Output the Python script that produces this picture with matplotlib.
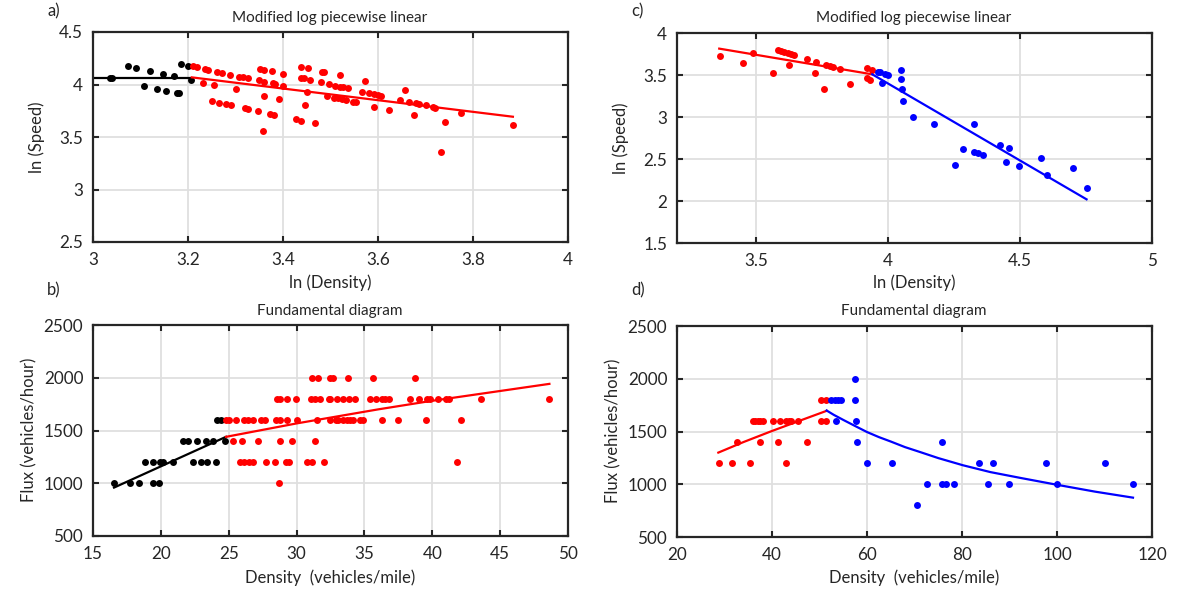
import matplotlib
matplotlib.use("Agg")
import matplotlib.pyplot as plt

plt.rcParams['font.family'] = ['Lato', 'DejaVu Sans']

# ---- panel a: log-log speed/density, two regimes ----
a_black_x = [3.036, 3.040, 3.073, 3.090, 3.120, 3.147, 3.171, 3.108, 3.134, 3.154,
             3.177, 3.182, 3.185, 3.199, 3.206]
a_black_y = [4.060, 4.060, 4.176, 4.160, 4.130, 4.100, 4.080, 3.986, 3.960, 3.940,
             3.916, 3.916, 4.198, 4.180, 4.040]
a_red_x = [3.211, 3.219, 3.236, 3.243, 3.262, 3.272, 3.288, 3.307, 3.315, 3.326,
           3.231, 3.255, 3.300, 3.251, 3.265, 3.280, 3.291, 3.321, 3.326, 3.347,
           3.357, 3.352, 3.361, 3.376, 3.399, 3.349, 3.359, 3.378, 3.383, 3.399,
           3.359, 3.391, 3.373, 3.381, 3.438, 3.453, 3.437, 3.445, 3.457, 3.450,
           3.446, 3.427, 3.437, 3.467, 3.483, 3.487, 3.479, 3.496, 3.493,
           3.509, 3.521, 3.527, 3.536, 3.519, 3.507, 3.516, 3.524, 3.533, 3.548,
           3.553, 3.573, 3.567, 3.580, 3.592, 3.599, 3.606, 3.592, 3.624, 3.657,
           3.646, 3.665, 3.680, 3.686, 3.700, 3.715, 3.721, 3.676, 3.740, 3.733,
           3.775, 3.884]
a_red_y = [4.173, 4.167, 4.148, 4.141, 4.119, 4.113, 4.094, 4.074, 4.068, 4.059,
           4.017, 3.992, 3.954, 3.843, 3.827, 3.814, 3.805, 3.773, 3.770, 3.748,
           3.557, 4.151, 4.141, 4.126, 4.103, 4.040, 4.027, 4.011, 4.002, 3.983,
           3.890, 3.859, 3.722, 3.713, 4.170, 4.154, 4.065, 4.059, 4.046, 3.932,
           3.805, 3.671, 3.655, 3.630, 4.122, 4.119, 4.021, 4.002, 3.890,
           3.989, 3.979, 3.973, 3.964, 4.087, 3.874, 3.869, 3.862, 3.850, 3.836,
           3.830, 4.033, 3.932, 3.919, 3.910, 3.903, 3.893, 3.789, 3.757, 3.948,
           3.852, 3.836, 3.821, 3.814, 3.802, 3.789, 3.779, 3.706, 3.643, 3.360,
           3.726, 3.614]
a_black_fit_x = [3.0, 3.205]
a_black_fit_y = [4.065, 4.065]
a_red_fit_x = [3.208, 3.884]
a_red_fit_y = [4.068, 3.693]

# ---- panel b: fundamental diagram ----
b_black_x = [16.55, 17.73, 18.41, 19.40, 19.86,
             18.83, 19.44, 19.94, 20.14, 20.87, 22.39, 22.96, 23.42, 24.06,
             21.65, 21.98, 22.69, 23.30, 23.87, 24.70,
             24.12, 24.41]
b_black_y = [1000] * 5 + [1200] * 9 + [1400] * 6 + [1600] * 2
b_red_x = [24.80, 25.05, 25.52, 26.15, 26.45, 26.81, 27.36, 27.68, 28.49, 28.78,
           29.27, 30.01, 31.53,
           32.47, 32.91, 33.08, 33.45, 33.70, 33.94, 34.18, 34.68, 34.92, 36.32,
           37.50, 39.52, 42.12,
           25.34, 25.96, 27.14, 28.78, 29.64, 31.38,
           25.83, 26.15, 26.52, 26.81, 27.73, 28.41, 29.22, 29.44, 30.79, 31.12,
           32.05, 41.80,
           28.73,
           28.54, 28.78, 29.27, 29.96, 31.07, 31.36, 31.73, 32.41,
           32.47, 32.96, 33.45, 33.89, 34.31, 35.41, 35.86, 36.27, 36.52, 36.79,
           38.36, 39.05, 39.59, 39.83, 40.45, 41.01, 41.26, 43.59, 48.58,
           31.12, 31.60, 32.47, 32.71, 33.77, 35.61, 38.73]
b_red_y = ([1600] * 26 + [1400] * 6 + [1200] * 12 + [1000] +
           [1800] * 8 + [1800] * 19 + [2000] * 7)
b_black_fit_x = [16.55, 24.80]
b_black_fit_y = [959, 1440]
b_red_fit_x = [24.80, 30.0, 36.0, 39.8, 48.63]
b_red_fit_y = [1440, 1567, 1700, 1778, 1942]

# ---- panel c: log-log speed/density, second site ----
c_red_x = [3.363, 3.449, 3.487, 3.562, 3.581, 3.594, 3.607, 3.619, 3.632, 3.642,
           3.623, 3.692, 3.727, 3.722, 3.758, 3.763, 3.778, 3.790, 3.816, 3.856,
           3.921, 3.938, 3.919, 3.933]
c_red_y = [3.731, 3.643, 3.762, 3.528, 3.802, 3.790, 3.779, 3.767, 3.750, 3.738,
           3.619, 3.690, 3.655, 3.528, 3.338, 3.624, 3.607, 3.595, 3.568, 3.393,
           3.580, 3.564, 3.464, 3.445]
c_blue_x = [3.961, 3.971, 3.990, 4.000, 3.978, 4.048, 4.048, 4.054, 4.057, 4.095,
            4.175, 4.327, 4.255, 4.285, 4.327, 4.341, 4.360, 4.423, 4.457, 4.446,
            4.495, 4.579, 4.603, 4.700, 4.752]
c_blue_y = [3.540, 3.536, 3.512, 3.500, 3.410, 3.556, 3.452, 3.330, 3.190, 3.000,
            2.921, 2.921, 2.433, 2.624, 2.583, 2.576, 2.552, 2.667, 2.631, 2.459,
            2.413, 2.512, 2.306, 2.393, 2.160]
c_red_fit_x = [3.36, 3.94]
c_red_fit_y = [3.814, 3.508]
c_blue_fit_x = [3.94, 4.752]
c_blue_fit_y = [3.508, 2.020]

# ---- panel d: fundamental diagram, second site ----
d_red_x = [28.9, 31.5, 35.3, 42.9,
           32.7, 37.5, 41.3, 47.3,
           36.0, 36.5, 37.0, 37.5, 38.1, 40.2, 41.6, 43.0, 43.5, 44.1, 45.5, 50.4, 51.3,
           50.4, 51.3]
d_red_y = [1200] * 4 + [1400] * 4 + [1600] * 13 + [1800] * 2
d_blue_x = [57.45,
            52.5, 53.2, 53.9, 54.6, 57.45,
            53.4, 57.7,
            57.9, 75.8,
            60.1, 65.2, 83.6, 86.5, 97.6, 110.2,
            72.7, 75.8, 76.7, 78.3, 85.5, 89.8, 99.9, 116.0,
            70.5]
d_blue_y = [2000] + [1800] * 5 + [1600] * 2 + [1400] * 2 + [1200] * 6 + [1000] * 8 + [800]
d_red_fit_x = [28.7, 34.0, 40.0, 46.0, 51.5]
d_red_fit_y = [1300, 1400, 1505, 1605, 1696]
d_blue_fit_x = [51.5, 53.0, 55.0, 57.5, 60.0, 62.5, 65.0, 68.0, 71.2, 75.0,
                80.2, 86.0, 92.3, 100.0, 108.0, 116.0]
d_blue_fit_y = [1699, 1658, 1610, 1552, 1495, 1447, 1405, 1352, 1305, 1248,
                1180, 1115, 1060, 995, 930, 873]

W, H = 1177, 594
fig = plt.figure(figsize=(W / 100, H / 100), dpi=100)

dark = '#262626'
grid_col = '#dfdfdf'


def px_rect(left, top, right, bottom):
    return [left / W, 1 - bottom / H, (right - left) / W, (bottom - top) / H]


def style(ax, xlim, ylim, xticks, xlabels, yticks, ylabels):
    ax.set_xlim(xlim)
    ax.set_ylim(ylim)
    ax.set_xticks(xticks)
    ax.set_xticklabels(xlabels)
    ax.set_yticks(yticks)
    ax.set_yticklabels(ylabels)
    ax.grid(True, color=grid_col, linewidth=1.3)
    ax.set_axisbelow(True)
    ax.tick_params(direction='in', length=4, width=1.5, color=dark,
                   top=True, right=True, labelsize=12.3, labelcolor=dark, pad=7)
    for s in ax.spines.values():
        s.set_color(dark)
        s.set_linewidth(1.6)


ms = 5

# a)
ax = fig.add_axes(px_rect(93, 32, 568, 242))
ax.plot(a_black_x, a_black_y, 'o', color='black', ms=ms, mew=0)
ax.plot(a_red_x, a_red_y, 'o', color='red', ms=ms, mew=0)
ax.plot(a_black_fit_x, a_black_fit_y, color='black', lw=1.6)
ax.plot(a_red_fit_x, a_red_fit_y, color='red', lw=1.6)
style(ax, (3, 4), (2.5, 4.5), [3, 3.2, 3.4, 3.6, 3.8, 4],
      ['3', '3.2', '3.4', '3.6', '3.8', '4'],
      [2.5, 3, 3.5, 4, 4.5], ['2.5', '3', '3.5', '4', '4.5'])

# b)
ax = fig.add_axes(px_rect(93, 325, 568, 536))
ax.plot(b_black_x, b_black_y, 'o', color='black', ms=ms, mew=0)
ax.plot(b_red_x, b_red_y, 'o', color='red', ms=ms, mew=0)
ax.plot(b_black_fit_x, b_black_fit_y, color='black', lw=1.6)
ax.plot(b_red_fit_x, b_red_fit_y, color='red', lw=1.6)
style(ax, (15, 50), (500, 2500), list(range(15, 51, 5)),
      [str(v) for v in range(15, 51, 5)],
      list(range(500, 2501, 500)), [str(v) for v in range(500, 2501, 500)])

# c)
ax = fig.add_axes(px_rect(677, 33, 1152, 243))
ax.plot(c_red_x, c_red_y, 'o', color='red', ms=ms, mew=0)
ax.plot(c_blue_x, c_blue_y, 'o', color='blue', ms=ms, mew=0)
ax.plot(c_red_fit_x, c_red_fit_y, color='red', lw=1.6)
ax.plot(c_blue_fit_x, c_blue_fit_y, color='blue', lw=1.6)
style(ax, (3.2, 5), (1.5, 4), [3.5, 4, 4.5, 5], ['3.5', '4', '4.5', '5'],
      [1.5, 2, 2.5, 3, 3.5, 4], ['1.5', '2', '2.5', '3', '3.5', '4'])

# d)
ax = fig.add_axes(px_rect(677, 326, 1152, 537))
ax.plot(d_red_x, d_red_y, 'o', color='red', ms=ms, mew=0)
ax.plot(d_blue_x, d_blue_y, 'o', color='blue', ms=ms, mew=0)
ax.plot(d_red_fit_x, d_red_fit_y, color='red', lw=1.6)
ax.plot(d_blue_fit_x, d_blue_fit_y, color='blue', lw=1.6)
style(ax, (20, 120), (500, 2500), list(range(20, 121, 20)),
      [str(v) for v in range(20, 121, 20)],
      list(range(500, 2501, 500)), [str(v) for v in range(500, 2501, 500)])

# text: panel letters, titles, axis labels


def ftext(x, y, s, fs=12.0, **kw):
    fig.text(x / W, 1 - y / H, s, fontsize=fs, color=dark, **kw)


ftext(47, 11, 'a)', ha='left', va='center')
ftext(47, 290, 'b)', ha='left', va='center')
ftext(631, 11, 'c)', ha='left', va='center')
ftext(631, 290, 'd)', ha='left', va='center')

ftext(330, 18, 'Modified log piecewise linear', fs=11, ha='center', va='center')
ftext(914, 18, 'Modified log piecewise linear', fs=11, ha='center', va='center')
ftext(330, 311, 'Fundamental diagram', fs=11, ha='center', va='center')
ftext(914, 311, 'Fundamental diagram', fs=11, ha='center', va='center')

ftext(330, 283, 'ln (Density)', ha='center', va='center')
ftext(914, 283, 'ln (Density)', ha='center', va='center')
ftext(330, 578, 'Density  (vehicles/mile)', ha='center', va='center')
ftext(914, 578, 'Density  (vehicles/mile)', ha='center', va='center')

ftext(37, 137, 'ln (Speed)', ha='center', va='center', rotation=90)
ftext(621, 138, 'ln (Speed)', ha='center', va='center', rotation=90)
ftext(29, 430, 'Flux (vehicles/hour)', ha='center', va='center', rotation=90)
ftext(613, 431, 'Flux (vehicles/hour)', ha='center', va='center', rotation=90)

fig.savefig('out.png', dpi=100)
